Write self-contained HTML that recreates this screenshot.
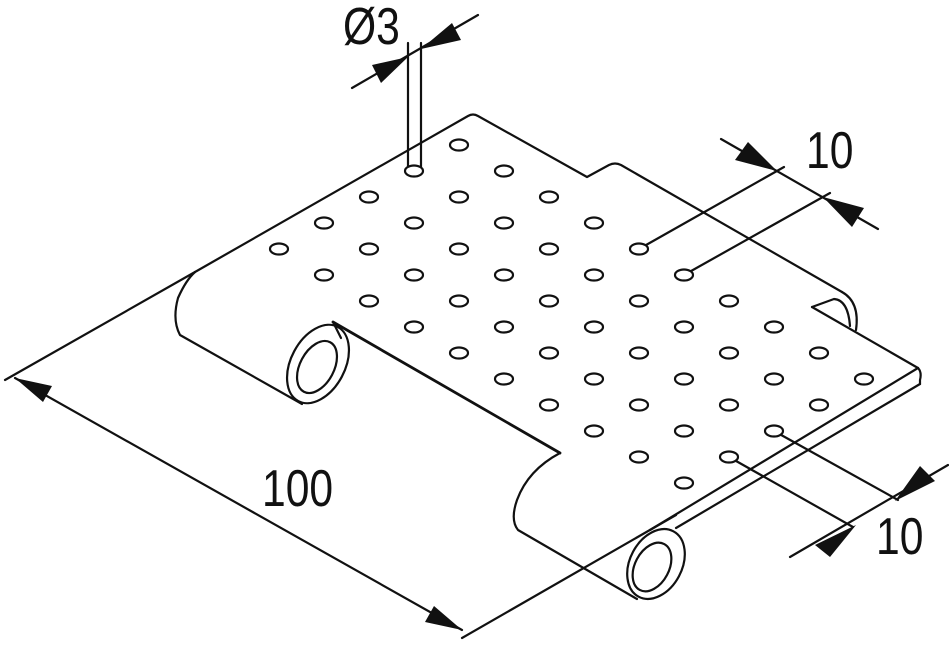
<!DOCTYPE html>
<html><head><meta charset="utf-8"><style>
html,body{margin:0;padding:0;background:#fff;}
svg{display:block;}
text{font-family:"Liberation Sans Narrow","Liberation Sans",sans-serif;fill:#111;}
</style></head><body>
<svg width="949" height="646" viewBox="0 0 949 646" xmlns="http://www.w3.org/2000/svg">
<g fill="none" stroke="#111" stroke-width="2.2" stroke-linejoin="round" stroke-linecap="round">
<!-- top edge extended to dimension -->
<path d="M5,380 L195,272"/>
<path d="M195,272 L468,116 Q473,113 478,116 L587,177 L609,165 Q615,162 621,165 L842,292"/>
<!-- right notch cylinder -->
<path d="M842,292 Q860,302 856,330"/>
<path d="M812,307 L918,368"/>
<path d="M812,307 L834,299 Q848,300 850,326"/>
<!-- right corner & thickness -->
<path d="M918,368 Q922,372 920,380 L920,384"/>
<path d="M918,368 L650,530"/>
<path d="M920,384 L676,528"/>
<!-- bottom front cylinder -->
<ellipse cx="656" cy="564" rx="26" ry="37" transform="rotate(28 656 564)"/>
<ellipse cx="652" cy="567" rx="17" ry="26" transform="rotate(28 652 567)"/>
<path d="M637,599 L518,530 Q510,520 517,500 Q528,470 560,453"/>
<path d="M560,453 L333,322" stroke-width="2.8"/>
<!-- left cylinder -->
<ellipse cx="318" cy="364" rx="27" ry="42" transform="rotate(28 318 364)"/>
<ellipse cx="317" cy="367" rx="17" ry="28" transform="rotate(28 317 367)"/>
<path d="M333,322 L341,338"/>
<path d="M302,404 L180,335 Q172,320 178,298 Q186,280 195,272"/>
<!-- 100 dimension -->
<path d="M462,638 L676,515"/>
<path d="M15,378 L462,630"/>
<!-- Ø3 -->
<path d="M408,43 L408,170 M421,43 L421,170"/>
<path d="M352,88 L478,15"/>
<!-- top right 10 -->
<path d="M639,249 L784,167 M684,275 L830,193"/>
<path d="M721,139 L878,229"/>
<!-- bottom right 10 -->
<path d="M774,431 L898,500 M729,457 L853,527"/>
<path d="M790,557 L948,465"/>
</g>
<g fill="#111" stroke="none">
<!-- 100 arrows -->
<polygon points="15,378 52,386 43,402"/>
<polygon points="462,630 425,622 434,606"/>
<!-- Ø3 arrows -->
<polygon points="408,57 372,65 381,83"/>
<polygon points="421,49 452,23 461,40"/>
<!-- top 10 arrows -->
<polygon points="777,171 735,160 748,142"/>
<polygon points="823,197 864,208 852,227"/>
<!-- bottom 10 arrows -->
<polygon points="895,501 935,481 920,466"/>
<polygon points="856,525 815,545 830,557"/>
</g>
<g fill="#fff" stroke="#111" stroke-width="2.2">
<ellipse cx="459" cy="145" rx="9" ry="5.5"/><ellipse cx="414" cy="171" rx="9" ry="5.5"/><ellipse cx="504" cy="171" rx="9" ry="5.5"/>
<ellipse cx="369" cy="197" rx="9" ry="5.5"/><ellipse cx="459" cy="197" rx="9" ry="5.5"/><ellipse cx="549" cy="197" rx="9" ry="5.5"/>
<ellipse cx="324" cy="223" rx="9" ry="5.5"/><ellipse cx="414" cy="223" rx="9" ry="5.5"/><ellipse cx="504" cy="223" rx="9" ry="5.5"/><ellipse cx="594" cy="223" rx="9" ry="5.5"/>
<ellipse cx="279" cy="249" rx="9" ry="5.5"/><ellipse cx="369" cy="249" rx="9" ry="5.5"/><ellipse cx="459" cy="249" rx="9" ry="5.5"/><ellipse cx="549" cy="249" rx="9" ry="5.5"/><ellipse cx="639" cy="249" rx="9" ry="5.5"/>
<ellipse cx="324" cy="275" rx="9" ry="5.5"/><ellipse cx="414" cy="275" rx="9" ry="5.5"/><ellipse cx="504" cy="275" rx="9" ry="5.5"/><ellipse cx="594" cy="275" rx="9" ry="5.5"/><ellipse cx="684" cy="275" rx="9" ry="5.5"/>
<ellipse cx="369" cy="301" rx="9" ry="5.5"/><ellipse cx="459" cy="301" rx="9" ry="5.5"/><ellipse cx="549" cy="301" rx="9" ry="5.5"/><ellipse cx="639" cy="301" rx="9" ry="5.5"/><ellipse cx="729" cy="301" rx="9" ry="5.5"/>
<ellipse cx="414" cy="327" rx="9" ry="5.5"/><ellipse cx="504" cy="327" rx="9" ry="5.5"/><ellipse cx="594" cy="327" rx="9" ry="5.5"/><ellipse cx="684" cy="327" rx="9" ry="5.5"/><ellipse cx="774" cy="327" rx="9" ry="5.5"/>
<ellipse cx="459" cy="353" rx="9" ry="5.5"/><ellipse cx="549" cy="353" rx="9" ry="5.5"/><ellipse cx="639" cy="353" rx="9" ry="5.5"/><ellipse cx="729" cy="353" rx="9" ry="5.5"/><ellipse cx="819" cy="353" rx="9" ry="5.5"/>
<ellipse cx="504" cy="379" rx="9" ry="5.5"/><ellipse cx="594" cy="379" rx="9" ry="5.5"/><ellipse cx="684" cy="379" rx="9" ry="5.5"/><ellipse cx="774" cy="379" rx="9" ry="5.5"/><ellipse cx="864" cy="379" rx="9" ry="5.5"/>
<ellipse cx="549" cy="405" rx="9" ry="5.5"/><ellipse cx="639" cy="405" rx="9" ry="5.5"/><ellipse cx="729" cy="405" rx="9" ry="5.5"/><ellipse cx="819" cy="405" rx="9" ry="5.5"/>
<ellipse cx="594" cy="431" rx="9" ry="5.5"/><ellipse cx="684" cy="431" rx="9" ry="5.5"/><ellipse cx="774" cy="431" rx="9" ry="5.5"/>
<ellipse cx="639" cy="457" rx="9" ry="5.5"/><ellipse cx="729" cy="457" rx="9" ry="5.5"/>
<ellipse cx="684" cy="483" rx="9" ry="5.5"/>
</g>
<text x="0" y="0" font-size="52" transform="translate(262,506) scale(0.82,1)">100</text>
<text x="0" y="0" font-size="52" transform="translate(343,44) scale(0.82,1)">Ø3</text>
<text x="0" y="0" font-size="52" transform="translate(806,168) scale(0.82,1)">10</text>
<text x="0" y="0" font-size="52" transform="translate(876,554) scale(0.82,1)">10</text>
</svg>
</body></html>
